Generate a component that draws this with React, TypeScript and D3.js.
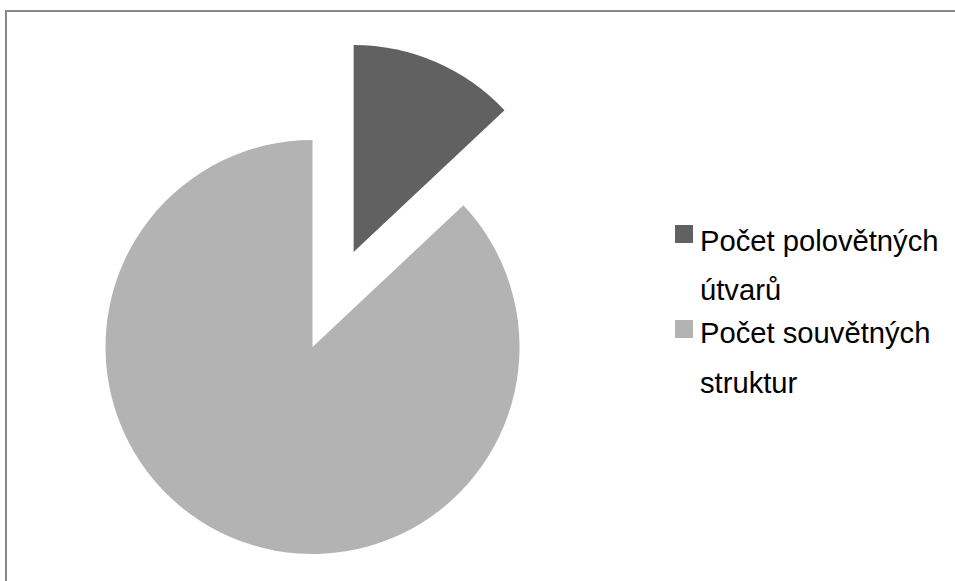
import React from "react";
import * as d3 from "d3";

const categories = ["Počet polovětných útvarů", "Počet souvětných struktur"];
const legendLines = [["Počet polovětných", "útvarů"], ["Počet souvětných", "struktur"]];
const values = [13, 87];
const colors = ["#616161", "#b3b3b3"];

export default function App() {
  const W = 955, H = 581;
  const cx = 312.5, cy = 347, r = 207, explode = 103.5;
  const pie = d3.pie<number>().sort(null).startAngle(0).endAngle(2 * Math.PI);
  const arcs = pie(values);
  const arc = d3.arc<d3.PieArcDatum<number>>().innerRadius(0).outerRadius(r);
  const font = "Arial, 'Liberation Sans', sans-serif";
  const baselines = [250.5, 343];
  const squareTops = [225, 320];
  return (
    <svg width={W} height={H} style={{ position: "absolute", left: 0, top: 0, display: "block" }}>
      <rect x={0} y={0} width={W} height={H} fill="#fff" />
      <rect x={6} y={11} width={980} height={600} fill="#fff" stroke="#888" strokeWidth={2} />
      {arcs.map((a, i) => {
        const mid = (a.startAngle + a.endAngle) / 2;
        const off = i === 0 ? explode : 0;
        const dx = Math.sin(mid) * off, dy = -Math.cos(mid) * off;
        return (
          <path key={i} d={arc(a) || ""} fill={colors[i]} transform={`translate(${cx + dx},${cy + dy})`} />
        );
      })}
      {categories.map((c, i) => (
        <g key={c}>
          <rect x={675} y={squareTops[i]} width={18} height={18} fill={colors[i]} />
          {legendLines[i].map((t, j) => (
            <text key={j} x={700} y={baselines[i] + j * 49.5} fontFamily={font} fontSize={29.2} fill="#000">{t}</text>
          ))}
        </g>
      ))}
    </svg>
  );
}
